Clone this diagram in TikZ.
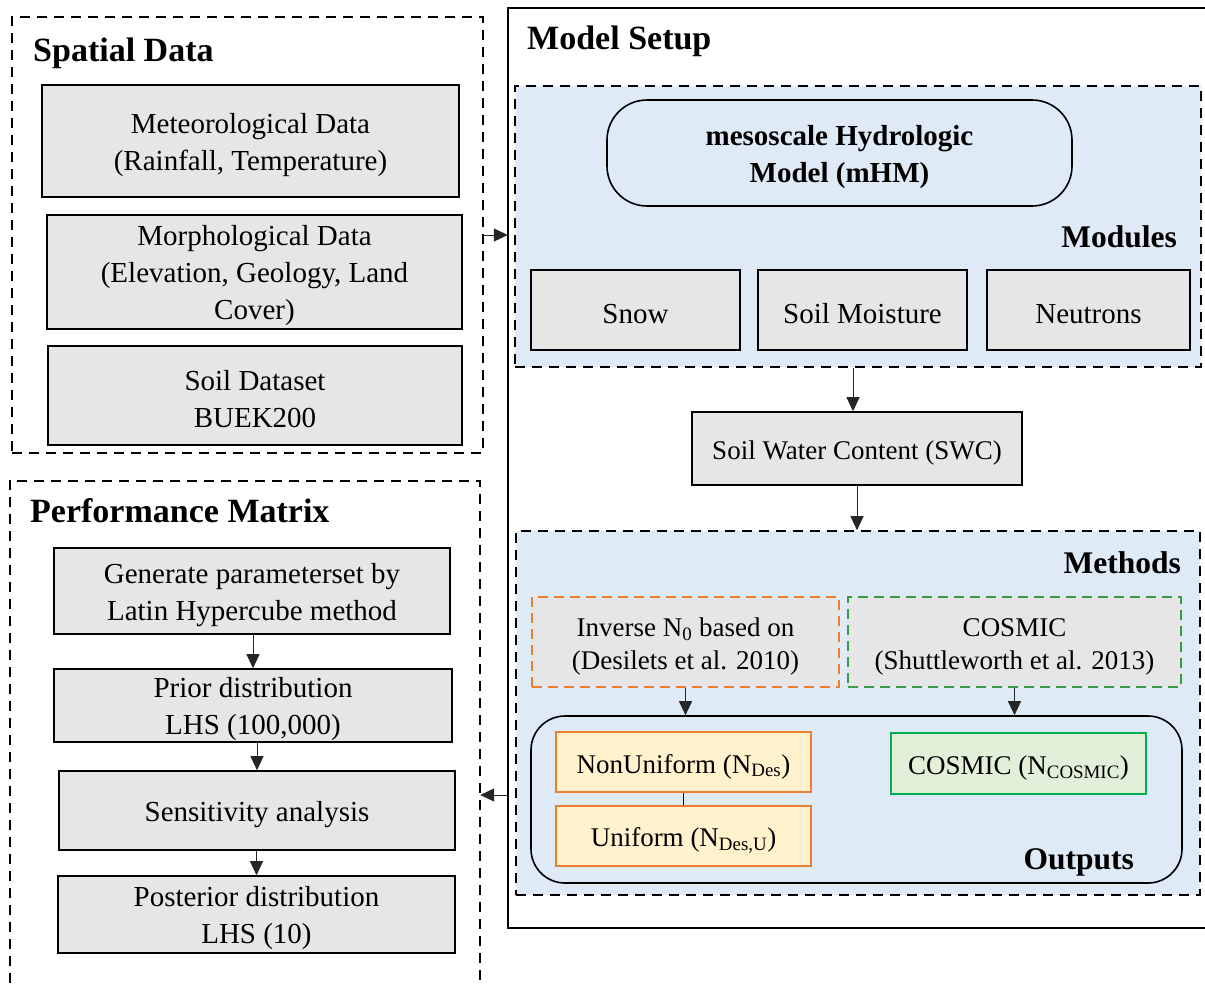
\documentclass[tikz,border=0pt]{standalone}
\usepackage{fontspec}
\setmainfont{Liberation Serif}
\usetikzlibrary{arrows.meta, positioning, calc}

\definecolor{boxgray}{HTML}{E6E6E6}
\definecolor{regblue}{HTML}{DEEAF6}
\definecolor{orangeline}{HTML}{ED7D31}
\definecolor{greendash}{HTML}{3A9A46}
\definecolor{greenline}{HTML}{00B050}
\definecolor{yellowfill}{HTML}{FFF2CC}
\definecolor{greenfill}{HTML}{E2F0D9}

\newcommand\fmain{\fontsize{29}{37}\selectfont}
\newcommand\fsmall{\fontsize{27}{33.5}\selectfont}
\newcommand\ftitle{\fontsize{34}{40}\selectfont\bfseries}
\newcommand\fsub{\fontsize{31.5}{38}\selectfont\bfseries}
% tall strut for the first line, pushes the text a little lower in its box
\newcommand\sk{\rule{0pt}{28pt}}

\begin{document}
\begin{tikzpicture}[
    x=1pt, y=-1pt,
    gbox/.style={
        rectangle,
        draw,
        line width=1.6pt,
        fill=boxgray,
        align=center,
        inner sep=0pt,
        font=\fmain
    },
    sbox/.style={
        gbox,
        font=\fsmall
    },
    panel/.style={
        draw,
        line width=1.6pt,
        dash pattern=on 10pt off 7pt
    },
    region/.style={
        panel,
        fill=regblue
    },
    title/.style={
        anchor=west,
        inner sep=0pt,
        font=\ftitle
    },
    sublabel/.style={
        anchor=east,
        inner sep=0pt,
        font=\fsub
    },
    arr/.style={
        -{Triangle[length=14pt,width=13pt]},
        line width=1pt,
        draw=black!85
    }
]
\useasboundingbox (0,0) rectangle (1205,983);

% Spatial data
\node [panel, minimum width=471, minimum height=436] (spatial) at (247.5,235) {};
\node [title] (spatialT) at (33,53) {Spatial Data};
\node [gbox, minimum width=417, minimum height=112] (meteo) at (250.5,141) {\sk Meteorological Data\\(Rainfall, Temperature)};
\node [gbox, minimum width=415, minimum height=114] (morph) at (254.5,272) {\sk Morphological Data\\(Elevation, Geology, Land\\Cover)};
\node [gbox, minimum width=414, minimum height=99] (soil) at (255,395.5) {\sk Soil Dataset\\BUEK200};

% Performance matrix (open at the bottom)
\node [minimum width=470, minimum height=502, inner sep=0pt] (perf) at (245,732) {};
\draw [panel] (perf.south west) -- (perf.north west) -- (perf.north east) -- (perf.south east);
\node [title] (perfT) at (30,511) {Performance Matrix};
\node [gbox, minimum width=396, minimum height=86] (gen) at (252,591) {\sk Generate parameterset by\\Latin Hypercube method};
\node [gbox, minimum width=398, minimum height=73] (prior) at (253,705.5) {\sk Prior distribution\\LHS (100,000)};
\node [gbox, minimum width=396, minimum height=79] (sens) at (257,810.5) {\sk Sensitivity analysis};
\node [gbox, minimum width=397, minimum height=77] (post) at (256.5,914.5) {\sk Posterior distribution\\LHS (10)};

% Model setup (open at the right)
\node [minimum width=697, minimum height=920, inner sep=0pt] (setup) at (856.5,468) {};
\draw [line width=1.6pt] (setup.north east) -- (setup.north west) -- (setup.south west) -- (setup.south east);
\node [title] (setupT) at (527,41) {Model Setup};

% Modules
\node [region, minimum width=686, minimum height=281] (modules) at (858,226.5) {};
\node [draw, line width=1.6pt, rounded corners=40pt, minimum width=465, minimum height=106, align=center, font=\fmain\bfseries] (mhm) at (839.5,153) {\sk mesoscale Hydrologic\\Model (mHM)};
\node [sublabel] (modulesT) at (1177,237) {Modules};
\node [gbox, minimum width=209, minimum height=80] (snow) at (635.5,310) {\sk Snow};
\node [gbox, minimum width=209, minimum height=80] (moist) at (862.5,310) {\sk Soil Moisture};
\node [gbox, minimum width=203, minimum height=80] (neut) at (1088.5,310) {\sk Neutrons};

\node [sbox, minimum width=330, minimum height=73] (swc) at (857,448.5) {\sk Soil Water Content (SWC)};

% Methods
\node [region, minimum width=684, minimum height=364] (methods) at (858,713) {};
\node [sublabel] (methodsT) at (1181,563) {Methods};
\node [sbox, draw=orangeline, dash pattern=on 10pt off 6pt, minimum width=307, minimum height=90] (inv) at (685.5,642) {\sk Inverse N\textsubscript{0} based on\\(Desilets et al. 2010)};
\node [sbox, draw=greendash, dash pattern=on 10pt off 6pt, minimum width=333, minimum height=90] (cosm) at (1014.5,642) {\sk COSMIC\\(Shuttleworth et al. 2013)};

% Outputs
\node [draw, line width=1.6pt, rounded corners=34pt, minimum width=651, minimum height=167] (outputs) at (856.5,799.5) {};
\node [sbox, draw=orangeline, fill=yellowfill, minimum width=255, minimum height=60] (nonu) at (683.5,762) {\sk NonUniform (N\textsubscript{Des})};
\node [sbox, draw=orangeline, fill=yellowfill, minimum width=255, minimum height=60] (unif) at (683.5,836) {\sk Uniform (N\textsubscript{Des,U})};
\node [sbox, draw=greenline, fill=greenfill, minimum width=255, minimum height=61] (ncos) at (1018.5,763.5) {\sk COSMIC (N\textsubscript{COSMIC})};
\node [sublabel] (outputsT) at (1134,862) {Outputs};

% Connectors
\draw [arr] (spatial.east) -- (spatial.east -| setup.west);
\coordinate (ret) at (508,795);
\draw [arr] (ret) -- (ret -| perf.east);
\draw [arr] (gen.south -| prior.north) -- (prior.north);
\draw [arr] (prior.south -| sens.north) -- (sens.north);
\draw [arr] (sens.south -| post.north) -- (post.north);
\draw [arr] (modules.south -| 853,0) -- (swc.north -| 853,0);
\draw [arr] (swc.south) -- (swc.south |- methods.north);
\draw [arr] (inv.south) -- (inv.south |- outputs.north);
\draw [arr] (cosm.south) -- (cosm.south |- outputs.north);
\draw [line width=1pt] (nonu.south) -- (unif.north);

\end{tikzpicture}
\end{document}
